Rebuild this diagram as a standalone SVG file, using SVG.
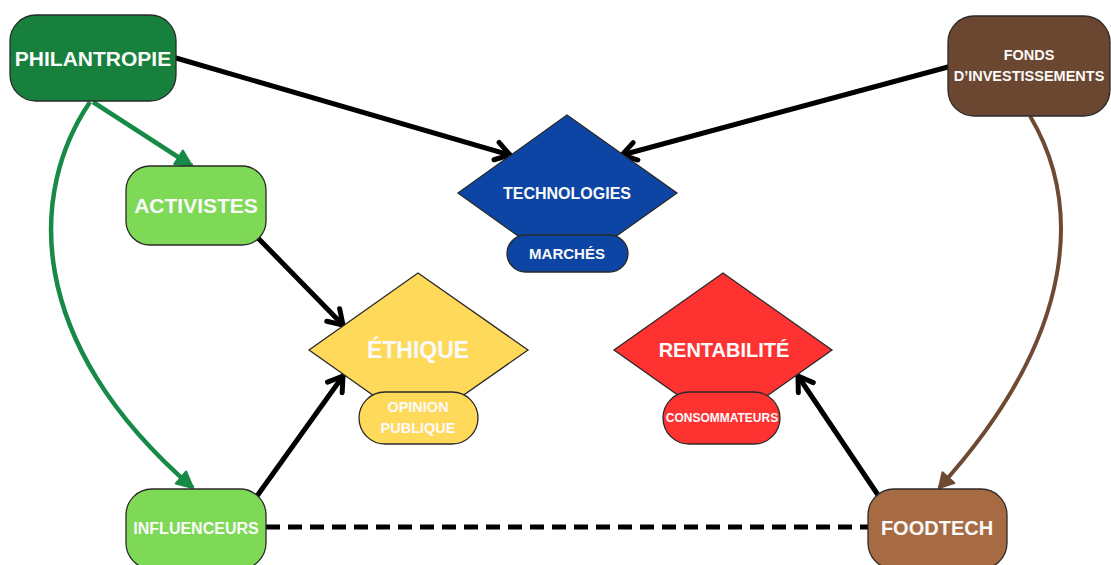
<svg xmlns="http://www.w3.org/2000/svg" width="1111" height="565" viewBox="0 0 1111 565">
<style>
.lbl{font-family:"Liberation Sans",Arial,sans-serif;font-weight:bold;fill:#fafafa;text-anchor:middle;dominant-baseline:central}
.nd{stroke:#2a2a2a;stroke-width:1.3}
.blk{fill:none;stroke:#000;stroke-width:5;stroke-linecap:round}
.grn{fill:none;stroke:#178a47;stroke-width:4.5}
.brn{fill:none;stroke:#6e4a33;stroke-width:4}
</style>
<defs>
<marker id="ab" markerUnits="userSpaceOnUse" markerWidth="24" markerHeight="24" viewBox="0 0 24 24" refX="19" refY="12" orient="auto">
<path d="M5,3 L19,12 L5,21" fill="none" stroke="#000" stroke-width="5" stroke-linecap="round" stroke-linejoin="round"/>
</marker>
<marker id="ag" markerUnits="userSpaceOnUse" markerWidth="22" markerHeight="22" viewBox="0 0 22 22" refX="19" refY="11" orient="auto">
<path d="M3,3 L19,11 L3,19 z" fill="#178a47" stroke="#178a47" stroke-width="2" stroke-linejoin="round"/>
</marker>
<marker id="abr" markerUnits="userSpaceOnUse" markerWidth="22" markerHeight="22" viewBox="0 0 22 22" refX="18" refY="11" orient="auto">
<path d="M4,3 L18,11 L4,19 z" fill="#6e4a33" stroke="#6e4a33" stroke-width="2" stroke-linejoin="round"/>
</marker>
</defs>
<rect width="1111" height="565" fill="#fff"/>
<g id="connectors">
<line class="blk" x1="176" y1="58" x2="510" y2="155" marker-end="url(#ab)"/>
<line class="blk" x1="948" y1="67" x2="622" y2="155" marker-end="url(#ab)"/>
<line class="blk" x1="257" y1="237" x2="343" y2="325" marker-end="url(#ab)"/>
<line class="blk" x1="257" y1="496" x2="343" y2="376" marker-end="url(#ab)"/>
<line class="blk" x1="878" y1="495" x2="798" y2="376" marker-end="url(#ab)"/>
<line x1="266" y1="527" x2="868" y2="527" stroke="#000" stroke-width="5" stroke-dasharray="14 8"/>
<line class="grn" x1="93" y1="102" x2="192" y2="166" marker-end="url(#ag)"/>
<path class="grn" d="M90,102 C30,190 22,340 193,488" marker-end="url(#ag)"/>
<path class="brn" d="M1030,116 C1080,200 1082,330 939,488" marker-end="url(#abr)"/>
</g>
<g id="philantropie">
<rect class="nd" x="10" y="15" width="166" height="86" rx="26" fill="#16803c"/>
<text class="lbl" x="93" y="58" font-size="21">PHILANTROPIE</text>
</g>
<g id="activistes">
<rect class="nd" x="126" y="166" width="140" height="79" rx="24" fill="#7ed957"/>
<text class="lbl" x="196" y="205" font-size="21">ACTIVISTES</text>
</g>
<g id="influenceurs">
<rect class="nd" x="126" y="489" width="140" height="80" rx="26" fill="#7ed957"/>
<text class="lbl" x="196" y="528" font-size="16">INFLUENCEURS</text>
</g>
<g id="fonds">
<rect class="nd" x="948" y="16" width="162" height="100" rx="26" fill="#6b4630"/>
<text class="lbl" x="1029" y="55" font-size="14.5">FONDS</text>
<text class="lbl" x="1029" y="76" font-size="14.5">D’INVESTISSEMENTS</text>
</g>
<g id="foodtech">
<rect class="nd" x="868" y="489" width="139" height="80" rx="26" fill="#a76b43"/>
<text class="lbl" x="937" y="528" font-size="20">FOODTECH</text>
</g>
<g id="technologies">
<polygon class="nd" points="567,115 677,193 567,271 458,193" fill="#0d45a5"/>
<text class="lbl" x="567" y="193" font-size="16">TECHNOLOGIES</text>
<rect class="nd" x="507" y="235" width="121" height="37" rx="18.5" fill="#0d45a5"/>
<text class="lbl" x="567" y="253" font-size="15">MARCHÉS</text>
</g>
<g id="ethique">
<polygon class="nd" points="418,273 528,350 418,427 309,350" fill="#fed95a"/>
<text class="lbl" x="418" y="350" font-size="23">ÉTHIQUE</text>
<rect class="nd" x="359" y="392" width="119" height="52" rx="26" fill="#fed95a"/>
<text class="lbl" x="418" y="407" font-size="14.5">OPINION</text>
<text class="lbl" x="418" y="428" font-size="14.5">PUBLIQUE</text>
</g>
<g id="rentabilite">
<polygon class="nd" points="723,273 832,350 723,427 614,350" fill="#ff3232"/>
<text class="lbl" x="724" y="350" font-size="20">RENTABILITÉ</text>
<rect class="nd" x="663" y="392" width="117" height="52" rx="26" fill="#ff3232"/>
<text class="lbl" x="722" y="418" font-size="12">CONSOMMATEURS</text>
</g>
</svg>
